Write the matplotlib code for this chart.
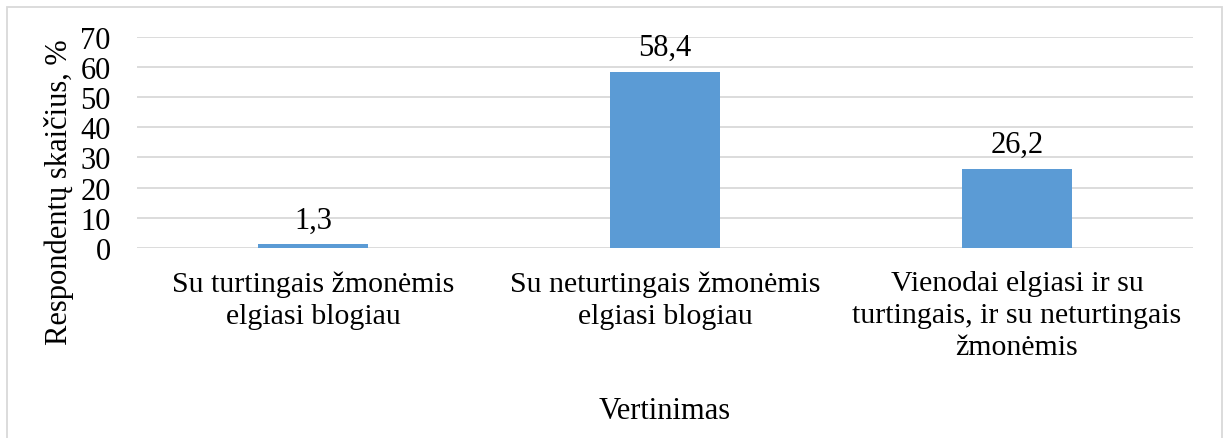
import matplotlib
matplotlib.use("Agg")
import matplotlib.pyplot as plt
from matplotlib.patches import Rectangle

categories = ["Su turtingais žmonėmis\nelgiasi blogiau",
              "Su neturtingais žmonėmis\nelgiasi blogiau",
              "Vienodai elgiasi ir su\nturtingais, ir su neturtingais\nžmonėmis"]
values = [1.3, 58.4, 26.2]
value_labels = ["1,3", "58,4", "26,2"]
yticks = [0, 10, 20, 30, 40, 50, 60, 70]

plt.rcParams['font.family'] = ['Liberation Serif', 'DejaVu Serif']
FS = 22

W, H = 1226, 439
fig = plt.figure(figsize=(W/100, H/100), dpi=100)
left, right, top, bottom = 137, 1193, 37.7, 249
ax = fig.add_axes([left/W, 1-bottom/H, (right-left)/W, (bottom-top)/H])

x = list(range(len(categories)))
bars = ax.bar(x, values, width=0.3125, color="#5b9bd5", zorder=3)
ax.set_xlim(-0.5, 2.5)
ax.set_ylim(0, 70)
ax.set_yticks(yticks)
ax.set_yticklabels([str(t) for t in yticks], fontsize=FS)
ax.set_xticks(x)
ax.set_xticklabels(categories, fontsize=21.5, linespacing=1.3, va="top")
ax.tick_params(axis="both", length=0)
ax.tick_params(axis="x", pad=16)
ax.tick_params(axis="y", pad=19)
for s in ax.spines.values():
    s.set_visible(False)
ax.grid(axis="y", color="#d9d9d9", linewidth=1.3, zorder=0)

for b, lab in zip(bars, value_labels):
    ax.annotate(lab, (b.get_x()+b.get_width()/2, b.get_height()),
                xytext=(0, 7), textcoords="offset points",
                ha="center", va="bottom", fontsize=FS)

fig.text(59/W, 1-192/H, "Respondentų skaičius, %", rotation=90,
         ha="center", va="center", fontsize=FS)
fig.text((left+right)/2/W, 1-412/H, "Vertinimas", ha="center", va="center", fontsize=FS)

fig.patches.append(Rectangle((7/W, -0.1), (1222-7)/W, 1.1-8/H, transform=fig.transFigure,
                             fill=False, edgecolor="#d9d9d9", linewidth=1.3))

fig.savefig("out.png", dpi=100)
